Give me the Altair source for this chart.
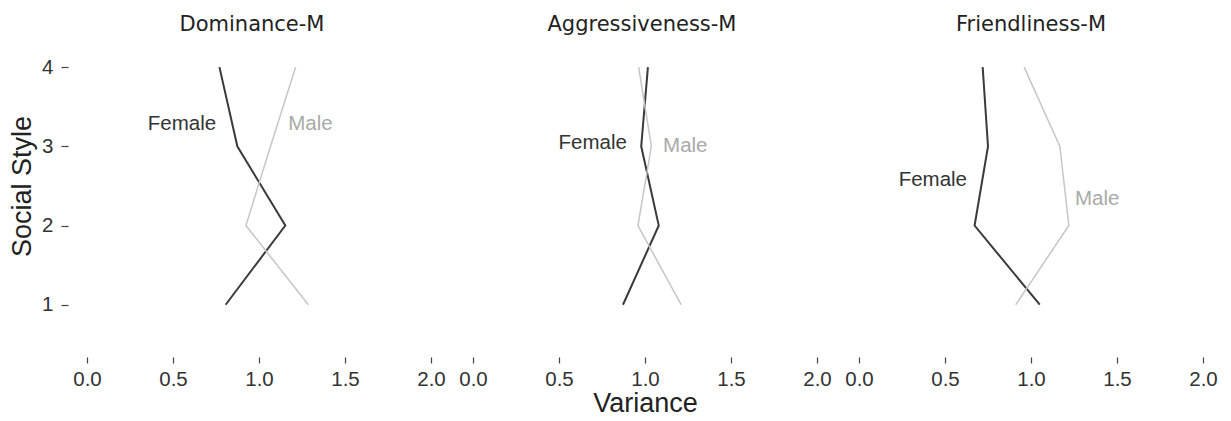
import altair as alt
import pandas as pd

# ---- data ----
panels = ["Dominance-M", "Aggressiveness-M", "Friendliness-M"]
social_style = [1, 2, 3, 4]

dominance_female = [0.806, 1.153, 0.874, 0.770]
dominance_male = [1.287, 0.924, 1.067, 1.213]
aggressiveness_female = [0.872, 1.080, 0.978, 1.017]
aggressiveness_male = [1.210, 0.959, 1.037, 0.963]
friendliness_female = [1.051, 0.672, 0.750, 0.719]
friendliness_male = [0.911, 1.220, 1.168, 0.960]

# direct-label anchors (data units)
label_female_x = [0.751, 0.895, 0.628]
label_female_y = [3.28, 3.04, 2.58]
label_male_x = [1.170, 1.105, 1.256]
label_male_y = [3.28, 3.00, 2.34]

x_ticks = [0.0, 0.5, 1.0, 1.5, 2.0]
y_ticks = [1, 2, 3, 4]

series = {
    "Dominance-M": (dominance_female, dominance_male),
    "Aggressiveness-M": (aggressiveness_female, aggressiveness_male),
    "Friendliness-M": (friendliness_female, friendliness_male),
}

SEX = ["Female", "Male"]
LINE_COLORS = ["#3a3a3a", "#c6c6c6"]
TEXT_COLORS = ["#333333", "#a9a9a9"]
LABEL_FONT = "Liberation Sans"

PANEL_W = 344
PANEL_H = 316
Y_DOMAIN = [0.34, 4.33]
LBL = 20.5
TTL = 27
TITLE_DX = [-7, -3, 0]


def make_panel(i, name):
    fem, mal = series[name]
    rows = []
    for s, v in zip(social_style, fem):
        rows.append({"social": s, "variance": v, "sex": "Female"})
    for s, v in zip(social_style, mal):
        rows.append({"social": s, "variance": v, "sex": "Male"})
    df = pd.DataFrame(rows)

    labels = pd.DataFrame({
        "sex": SEX,
        "variance": [label_female_x[i], label_male_x[i]],
        "social": [label_female_y[i], label_male_y[i]],
    })

    x_axis = alt.Axis(
        values=x_ticks, format=".1f", domain=False, grid=False,
        tickSize=6, tickColor="#444", tickWidth=1.2,
        labelFont=LABEL_FONT, labelFontSize=LBL, labelColor="#333",
        labelPadding=6, labelFlush=False,
        title="Variance" if i == 1 else None,
        titleFont=LABEL_FONT, titleFontSize=TTL, titleFontWeight="normal",
        titleColor="#222", titlePadding=1,
    )
    if i == 0:
        y_axis = alt.Axis(
            values=y_ticks, format="d", domain=False, grid=False,
            offset=19, tickSize=7, tickColor="#444", tickWidth=1.2,
            labelFont=LABEL_FONT, labelFontSize=LBL, labelColor="#333",
            labelPadding=8,
            title="Social Style",
            titleFont=LABEL_FONT, titleFontSize=TTL, titleFontWeight="normal",
            titleColor="#222", titlePadding=5, titleY=145,
        )
    else:
        y_axis = None

    x = alt.X("variance:Q", scale=alt.Scale(domain=[0, 2], nice=False, zero=False), axis=x_axis)
    y = alt.Y("social:Q", scale=alt.Scale(domain=Y_DOMAIN, nice=False, zero=False), axis=y_axis)

    lines = alt.Chart(df).mark_line(strokeJoin="miter").encode(
        x=x,
        y=y,
        order=alt.Order("social:Q"),
        color=alt.Color("sex:N", scale=alt.Scale(domain=SEX, range=LINE_COLORS), legend=None),
        strokeWidth=alt.StrokeWidth("sex:N", scale=alt.Scale(domain=SEX, range=[2.0, 1.5]), legend=None),
    )

    fem_text = alt.Chart(labels).transform_filter(alt.datum.sex == "Female").mark_text(
        align="right", baseline="middle", font=LABEL_FONT, fontSize=LBL, color=TEXT_COLORS[0]
    ).encode(x="variance:Q", y="social:Q", text="sex:N")
    mal_text = alt.Chart(labels).transform_filter(alt.datum.sex == "Male").mark_text(
        align="left", baseline="middle", font=LABEL_FONT, fontSize=LBL, color=TEXT_COLORS[1]
    ).encode(x="variance:Q", y="social:Q", text="sex:N")

    return alt.layer(lines, fem_text, mal_text).properties(
        width=PANEL_W, height=PANEL_H,
        title=alt.Title(name, font="DejaVu Sans", fontSize=21, fontWeight="normal",
                        color="#222", offset=6, anchor="middle", dx=TITLE_DX[i]),
    )


chart = alt.hconcat(*[make_panel(i, n) for i, n in enumerate(panels)], spacing=42, bounds="flush").configure_view(
    stroke=None
).properties(padding={"left": 0, "top": 6, "right": 5, "bottom": 5}, background="white")

chart.save("out.html", embed_options={"renderer": "svg", "actions": False})
